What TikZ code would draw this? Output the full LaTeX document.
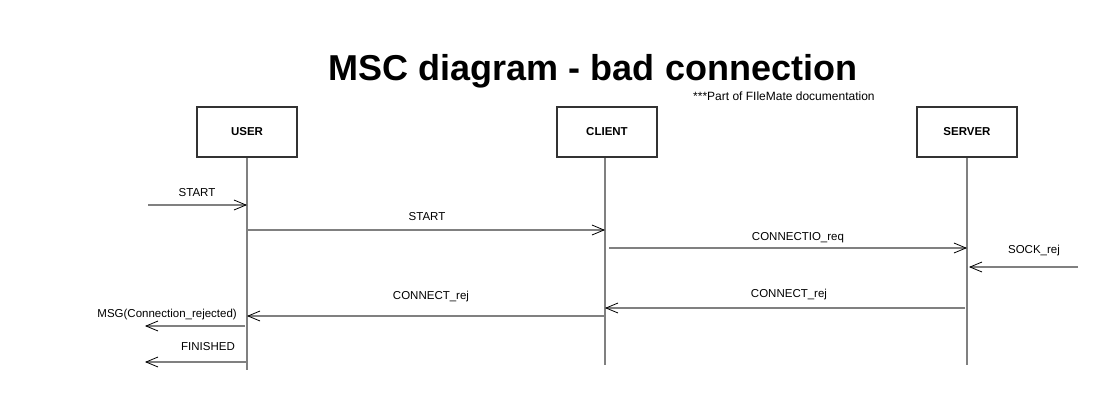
\documentclass[tikz,border=0pt]{standalone}
\usepackage{fontspec}
\setmainfont{Liberation Sans}
\usepackage{tikz}
\usetikzlibrary{calc, arrows.meta}
\definecolor{linegray}{HTML}{808080}
\definecolor{boxgray}{HTML}{333333}
\tikzstyle{actor}  = [rectangle, minimum width=100pt, minimum height=50pt, text centered, draw=boxgray, line width=1.6pt, fill=white, font=\fontsize{11.5}{13}\selectfont\bfseries]
\tikzstyle{life}   = [draw=linegray, line width=1.2pt]
\tikzstyle{msg}    = [draw=linegray, line width=1.2pt, -{Straight Barb[length=12pt, width=10pt, color=black, line width=0.8pt]}]
\tikzstyle{lbl}    = [font=\fontsize{11.5}{13}\selectfont, inner sep=0pt]

\begin{document}
\begin{tikzpicture}[x=1pt, y=-1pt]
      \useasboundingbox [fill=white] (0,0) rectangle (1104,402);

      \node (title) at (593,71) {\fontsize{36}{40}\selectfont\bfseries MSC diagram - bad connection};
      \node (note)  [lbl, font=\fontsize{12}{13}\selectfont, anchor=west] at (693,96) {***Part of FIleMate documentation};

      \node (user)   [actor] at (247,132) {USER};
      \node (client) [actor] at (607,132) {CLIENT};
      \node (server) [actor] at (967,132) {SERVER};

      \coordinate (userend)   at (247,370);
      \coordinate (clientend) at (605,365);
      \coordinate (serverend) at (967,365);

      \draw [life] (user.south)   -- (userend);
      \draw [life] (client.south -| clientend) -- (clientend);
      \draw [life] (server.south) -- (serverend);

      % messages
      \coordinate (in1)  at (148,205);
      \coordinate (in2)  at (1078,267);
      \coordinate (out1) at (145,326);
      \coordinate (out2) at (145,362);

      \draw [msg] (in1) -- (in1 -| userend);
      \draw [msg] ($(userend |- 0,230)$) -- ($(clientend |- 0,230)$);
      \draw [msg] ($(clientend |- 0,248)+(4,0)$) -- ($(serverend |- 0,248)$);
      \draw [msg] (in2) -- ($(in2 -| serverend)+(2,0)$);
      \draw [msg] ($(serverend |- 0,308)+(-2,0)$) -- ($(clientend |- 0,308)$);
      \draw [msg] ($(clientend |- 0,316)$) -- ($(userend |- 0,316)$);
      \draw [msg] ($(out1 -| userend)+(-2,0)$) -- (out1);
      \draw [msg] (out2 -| userend) -- (out2);

      \node (l1) [lbl] at (197,193) {START};
      \node (l2) [lbl] at (427,217) {START};
      \node (l3) [lbl] at (798,238) {CONNECTIO\_req};
      \node (l4) [lbl] at (1034,251) {SOCK\_rej};
      \node (l5) [lbl] at (789,295) {CONNECT\_rej};
      \node (l6) [lbl] at (431,297) {CONNECT\_rej};
      \node (l7) [lbl, anchor=east] at (237,315) {MSG(Connection\_rejected)};
      \node (l8) [lbl] at (208,347) {FINISHED};

    \end{tikzpicture}
\end{document}
